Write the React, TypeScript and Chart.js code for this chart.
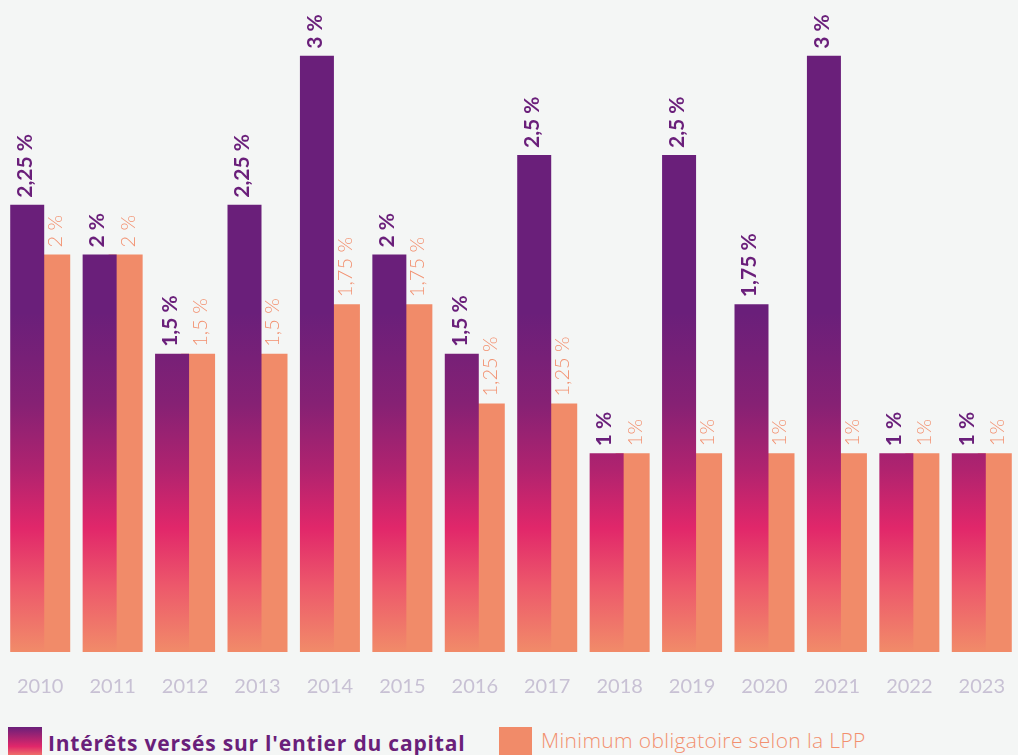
import React, { useEffect, useRef } from "react";
import { Chart, registerables } from "chart.js";

Chart.register(...registerables);

const years = ["2010", "2011", "2012", "2013", "2014", "2015", "2016", "2017", "2018", "2019", "2020", "2021", "2022", "2023"];
const interest = [2.25, 2, 1.5, 2.25, 3, 2, 1.5, 2.5, 1, 2.5, 1.75, 3, 1, 1];
const minimum = [2, 2, 1.5, 1.5, 1.75, 1.75, 1.25, 1.25, 1, 1, 1, 1, 1, 1];
const interestLabels = ["2,25 %", "2 %", "1,5 %", "2,25 %", "3 %", "2 %", "1,5 %", "2,5 %", "1 %", "2,5 %", "1,75 %", "3 %", "1 %", "1 %"];
const minimumLabels = ["2 %", "2 %", "1,5 %", "1,5 %", "1,75 %", "1,75 %", "1,25 %", "1,25 %", "1%", "1%", "1%", "1%", "1%", "1%"];
const seriesNames = ["Intérêts versés sur l'entier du capital", "Minimum obligatoire selon la LPP"];

const PURPLE = "#6a1f7a";
const ORANGE = "#f18b69";
const ORANGE_TEXT = "#f2906f";
const BG = "#f4f6f5";
const FONT = "Lato, 'Open Sans', sans-serif";
const LEGEND_FONT = "'Open Sans', Lato, sans-serif";

const gradientStops: [number, string][] = [
  [0, "#6a1f7a"],
  [0.48, "#6a1f7a"],
  [0.62, "#862174"],
  [0.72, "#b0236f"],
  [0.81, "#e1276a"],
  [0.9, "#ed596b"],
  [1, "#f18b69"],
];

const labelPlugin = {
  id: "barLabels",
  afterDatasetsDraw(chart: any) {
    const ctx = chart.ctx;
    const sets = [
      { idx: 0, labels: interestLabels, color: PURPLE, font: `bold 21px ${FONT}`, dx: -2 },
      { idx: 1, labels: minimumLabels, color: ORANGE_TEXT, font: `300 20px ${FONT}`, dx: 2.5 },
    ];
    sets.forEach((s) => {
      const meta = chart.getDatasetMeta(s.idx);
      meta.data.forEach((el: any, i: number) => {
        ctx.save();
        ctx.translate(el.x + s.dx, el.y - 7);
        ctx.rotate(-Math.PI / 2);
        ctx.font = s.font;
        ctx.fillStyle = s.color;
        ctx.textAlign = "left";
        ctx.textBaseline = "middle";
        ctx.fillText(s.labels[i], 0, 0);
        ctx.restore();
      });
    });
  },
};

export default function App() {
  const canvasRef = useRef<HTMLCanvasElement | null>(null);

  useEffect(() => {
    if (!canvasRef.current) return;
    const chart = new Chart(canvasRef.current, {
      type: "bar",
      data: {
        labels: years,
        datasets: [
          {
            label: seriesNames[0],
            data: interest,
            backgroundColor: (c: any) => {
              const area = c.chart.chartArea;
              if (!area) return PURPLE;
              const g = c.chart.ctx.createLinearGradient(0, area.top, 0, area.bottom);
              gradientStops.forEach(([o, col]) => g.addColorStop(o, col));
              return g;
            },
            borderWidth: 0,
            categoryPercentage: 0.718,
            barPercentage: 1.3077,
          },
          {
            label: seriesNames[1],
            data: minimum,
            backgroundColor: ORANGE,
            borderWidth: 0,
            categoryPercentage: 0.718,
            barPercentage: 1.3077,
          },
        ],
      },
      options: {
        animation: false,
        responsive: false,
        layout: { padding: { left: 4, right: 0, top: 0, bottom: 0 } },
        plugins: {
          legend: { display: false },
          tooltip: { enabled: false },
        },
        scales: {
          x: {
            grid: { display: false, drawTicks: false },
            border: { display: false },
            ticks: {
              color: "#c8c1d4",
              font: { family: FONT, size: 20, lineHeight: 3.2 },
              padding: 3,
            },
            afterFit: (scale: any) => {
              scale.height = 63;
            },
          },
          y: {
            display: false,
            min: 0,
            max: 3.28,
          },
        },
      },
      plugins: [labelPlugin],
    });
    return () => chart.destroy();
  }, []);

  return (
    <div
      style={{
        position: "absolute",
        left: 0,
        top: 0,
        width: 1018,
        height: 755,
        background: BG,
        overflow: "hidden",
        fontFamily: FONT,
      }}
    >
      <canvas ref={canvasRef} width={1018} height={715} style={{ position: "absolute", left: 0, top: 0, width: 1018, height: 715 }} />
      <div
        style={{
          position: "absolute",
          left: 8,
          top: 727,
          width: 34,
          height: 30,
          background: "linear-gradient(to bottom, #6a1f7a 0%, #e1276a 65%, #f1806a 100%)",
        }}
      />
      <div
        style={{
          position: "absolute",
          left: 48,
          top: 729,
          fontFamily: LEGEND_FONT,
          fontSize: 21,
          fontWeight: 700,
          letterSpacing: "0.8px",
          color: PURPLE,
          whiteSpace: "nowrap",
          lineHeight: "28px",
        }}
      >
        {seriesNames[0]}
      </div>
      <div
        style={{
          position: "absolute",
          left: 499,
          top: 727,
          width: 33,
          height: 30,
          background: ORANGE,
        }}
      />
      <div
        style={{
          position: "absolute",
          left: 541,
          top: 726,
          fontFamily: LEGEND_FONT,
          fontSize: 21,
          fontWeight: 300,
          letterSpacing: "0.35px",
          color: ORANGE_TEXT,
          whiteSpace: "nowrap",
          lineHeight: "28px",
        }}
      >
        {seriesNames[1]}
      </div>
    </div>
  );
}
